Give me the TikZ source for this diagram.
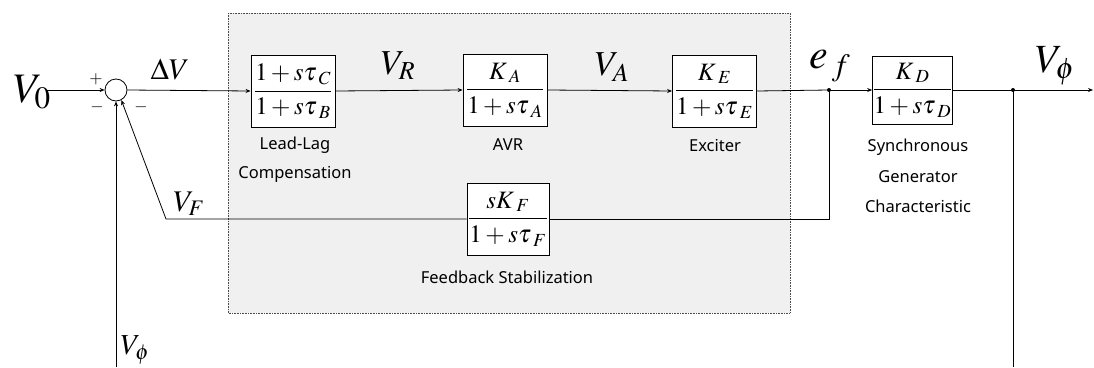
\documentclass[tikz,border=0pt]{standalone}
\usepackage{mathptmx}
\usepackage[no-math]{fontspec}
\setmainfont{Liberation Serif}
\newfontfamily\lblfont{Noto Sans}
\usetikzlibrary{arrows.meta}
\tikzset{
  blk/.style={draw, line width=0.8pt, fill=white, inner sep=0pt, minimum width=84pt, minimum height=72pt, font=\fontsize{25}{25}\selectfont},
  conn/.style={line width=0.8pt},
  arr/.style={conn, -{Stealth[length=5pt,width=4pt]}},
  captxt/.style={font=\lblfont\fontsize{16.5}{16.5}\selectfont, inner sep=0pt},
  sig/.style={inner sep=0pt},
  sgn/.style={inner sep=0pt, font=\fontsize{17}{17}\selectfont},
  dotc/.style={circle, fill=black, inner sep=0pt, minimum size=4pt}
}
\begin{document}
\begin{tikzpicture}[x=1pt,y=-1pt]
\useasboundingbox (0,0) rectangle (1094,367);
% grey region
\draw[fill={rgb,255:red,240;green,240;blue,240}, densely dotted, line width=0.6pt, draw=black!70] (228,13) rectangle (790,313);
% blocks
\node[blk] (ll) at (293,91) {$\displaystyle\frac{1+s\tau_{\mkern4mu C}}{1+s\tau_{\mkern4mu B}}$};
\node[blk] (avr) at (505,90) {$\displaystyle\frac{K_{\mkern4mu A}}{1+s\tau_{\mkern4mu A}}$};
\node[blk] (exc) at (714.5,91) {$\displaystyle\frac{K_{\mkern4mu E}}{1+s\tau_{\mkern4mu E}}$};
\node[blk, minimum width=79pt, minimum height=68pt] (sg) at (912.5,90) {$\displaystyle\frac{K_{\mkern4mu D}}{1+s\tau_{\mkern4mu D}}$};
\node[blk, minimum width=82pt] (fb) at (508,219) {$\displaystyle\frac{sK_{\mkern4mu F}}{1+s\tau_{\mkern4mu F}}$};
% summing junction
\node[draw, circle, line width=0.8pt, minimum size=22pt, inner sep=0pt, fill=white] (sum) at (116,90) {};
% captions
\node[captxt] (c1) at (295,145) {Lead-Lag};
\node[captxt] (c2) at (295,174) {Compensation};
\node[captxt] (c3) at (508,145) {AVR};
\node[captxt] (c4) at (715,145) {Exciter};
\node[captxt] (c5) at (918,147) {Synchronous};
\node[captxt] (c6) at (918,177) {Generator};
\node[captxt] (c7) at (918,206) {Characteristic};
\node[captxt] (c8) at (507,277) {Feedback Stabilization};
% signal labels
\node[sig, font=\fontsize{42}{42}\selectfont] (lv0) at (32,92) {$V_{0}$};
\node[sig, font=\fontsize{30}{30}\selectfont] (ldv) at (170,70) {$\Delta V$};
\node[sig, font=\fontsize{35}{35}\selectfont] (lvr) at (398,66) {$V_{R}$};
\node[sig, font=\fontsize{35}{35}\selectfont] (lva) at (612,67) {$V_{A}$};
\node[sig, font=\fontsize{42}{42}\selectfont] (lef) at (830,66) {$e_{\,f}$};
\node[sig, font=\fontsize{40}{40}\selectfont] (lvp) at (1055,66) {$V_{\phi}$};
\node[sig, font=\fontsize{30}{30}\selectfont] (lvf) at (189,204) {$V_{F}$};
\node[sig, font=\fontsize{29}{29}\selectfont] (lvb) at (135,350) {$V_{\phi}$};
\node[sgn] (pl) at (96,79) {$+$};
\node[sgn] (m1) at (97,107) {$-$};
\node[sgn] (m2) at (141,107) {$-$};
% coordinates
\coordinate (in) at (47,90);
\node[dotc] (ef) at (829,90) {};
\node[dotc] (vp) at (1013,90) {};
\coordinate (out) at (1093,90);
\coordinate (vpb) at (1013,367);
\coordinate (vpl) at (116,367);
\coordinate (fbc) at (166,219);
% connectors
\draw[arr] (in) -- (sum.west);
\draw[arr] (sum.east) -- (ll.west);
\draw[arr] (ll.east) -- (avr.west);
\draw[arr] (avr.east) -- (exc.west);
\draw[conn] (exc.east) -- (ef.center);
\draw[arr] (ef.center) -- (sg.west);
\draw[conn] (sg.east) -- (vp.center);
\draw[arr] (vp.center) -- (out);
\draw[conn] (vp.center) -- (vpb);
\draw[arr] (vpl) -- (sum.south);
\draw[conn] (ef.center) |- (fb.east);
\draw[arr] (fb.west) -- (fbc) -- (sum.-62);
\end{tikzpicture}
\end{document}
